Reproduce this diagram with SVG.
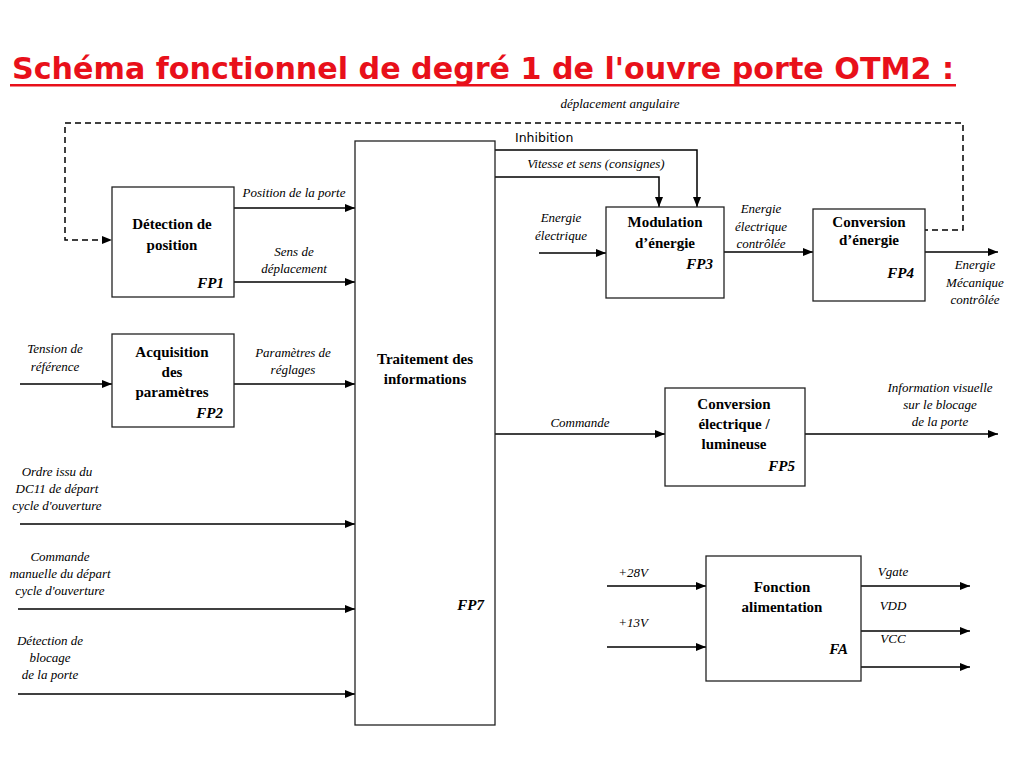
<svg xmlns="http://www.w3.org/2000/svg" width="1024" height="768" viewBox="0 0 1024 768">
<defs>
<marker id="ah" viewBox="0 0 10 8" refX="10" refY="4" markerWidth="10" markerHeight="8" markerUnits="userSpaceOnUse" orient="auto">
<path d="M0,0 L10,4 L0,8 Z" fill="#000"/>
</marker>
</defs>
<style>
.box{fill:#fff;stroke:#222;stroke-width:1.3}
.ln{fill:none;stroke:#000;stroke-width:1.5;marker-end:url(#ah)}
.dash{fill:none;stroke:#000;stroke-width:1.5;stroke-dasharray:6,4}
.bt{font-family:'Liberation Serif','DejaVu Serif',serif;font-weight:bold;font-size:15px;text-anchor:middle;fill:#000}
.fp{font-family:'Liberation Serif','DejaVu Serif',serif;font-weight:bold;font-style:italic;font-size:15px;text-anchor:end;fill:#000}
.lb{font-family:'Liberation Serif','DejaVu Serif',serif;font-style:italic;font-size:13px;text-anchor:middle;fill:#000}
.cm{font-family:'Comic Sans MS','DejaVu Sans',sans-serif}
</style>
<rect width="1024" height="768" fill="#fff"/>
<g id="title">
<text x="12" y="79" class="cm" font-size="31" font-weight="bold" fill="#e8101a" textLength="942" lengthAdjust="spacingAndGlyphs">Schéma fonctionnel de degré 1 de l'ouvre porte OTM2 :</text>
<rect x="10" y="84" width="946" height="2.5" fill="#e8101a"/>
</g>
<g id="connectors">
<polyline class="dash" points="922,230 963,230 963,123 65,123 65,240 104,240"/>
<path d="M112,240 L102,236 L102,244 Z" fill="#000"/>
<line class="ln" x1="234" y1="208" x2="355" y2="208"/>
<line class="ln" x1="234" y1="282" x2="355" y2="282"/>
<line class="ln" x1="20" y1="384" x2="112" y2="384"/>
<line class="ln" x1="234" y1="384" x2="355" y2="384"/>
<line class="ln" x1="20" y1="524" x2="355" y2="524"/>
<line class="ln" x1="18" y1="609" x2="355" y2="609"/>
<line class="ln" x1="18" y1="694" x2="355" y2="694"/>
<polyline class="ln" points="495,150 697,150 697,207"/>
<polyline class="ln" points="495,177 659,177 659,207"/>
<line class="ln" x1="539" y1="253" x2="606" y2="253"/>
<line class="ln" x1="724" y1="252" x2="813" y2="252"/>
<line class="ln" x1="925" y1="252" x2="998" y2="252"/>
<line class="ln" x1="495" y1="434" x2="665" y2="434"/>
<line class="ln" x1="805" y1="434" x2="998" y2="434"/>
<line class="ln" x1="607" y1="586" x2="706" y2="586"/>
<line class="ln" x1="607" y1="647" x2="706" y2="647"/>
<line class="ln" x1="861" y1="586" x2="970" y2="586"/>
<line class="ln" x1="861" y1="631" x2="970" y2="631"/>
<line class="ln" x1="861" y1="667" x2="970" y2="667"/>
</g>
<g id="labels">
<text x="620" y="108" class="lb" font-size="12.5">déplacement angulaire</text>
<text x="515" y="142" class="cm" font-size="12.5" fill="#000">Inhibition</text>
<text x="596" y="168" class="lb">Vitesse et sens (consignes)</text>
<text x="294" y="197" class="lb">Position de la porte</text>
<text x="294" y="256" class="lb">Sens de</text>
<text x="294" y="273" class="lb">déplacement</text>
<text x="55" y="353" class="lb">Tension de</text>
<text x="55" y="371" class="lb">référence</text>
<text x="293" y="357" class="lb">Paramètres de</text>
<text x="293" y="374" class="lb">réglages</text>
<text x="57" y="476" class="lb">Ordre issu du</text>
<text x="57" y="493" class="lb">DC11 de départ</text>
<text x="57" y="510" class="lb">cycle d'ouverture</text>
<text x="60" y="561" class="lb">Commande</text>
<text x="60" y="578" class="lb">manuelle du départ</text>
<text x="60" y="595" class="lb">cycle d'ouverture</text>
<text x="50" y="645" class="lb">Détection de</text>
<text x="50" y="662" class="lb">blocage</text>
<text x="50" y="679" class="lb">de la porte</text>
<text x="561" y="222" class="lb">Energie</text>
<text x="561" y="240" class="lb">électrique</text>
<text x="761" y="213" class="lb">Energie</text>
<text x="761" y="231" class="lb">électrique</text>
<text x="761" y="248" class="lb">contrôlée</text>
<text x="975" y="269" class="lb">Energie</text>
<text x="975" y="287" class="lb">Mécanique</text>
<text x="975" y="304" class="lb">contrôlée</text>
<text x="580" y="427" class="lb">Commande</text>
<text x="940" y="392" class="lb">Information visuelle</text>
<text x="940" y="409" class="lb">sur le blocage</text>
<text x="940" y="426" class="lb">de la porte</text>
<text x="633" y="577" class="lb">+28V</text>
<text x="633" y="627" class="lb">+13V</text>
<text x="893" y="576" class="lb">Vgate</text>
<text x="893" y="610" class="lb">VDD</text>
<text x="893" y="643" class="lb">VCC</text>
</g>
<g id="FP1">
<rect class="box" x="112" y="187" width="122" height="110"/>
<text x="172" y="229" class="bt">Détection de</text>
<text x="172" y="250" class="bt">position</text>
<text x="224" y="288" class="fp">FP1</text>
</g>
<g id="FP2">
<rect class="box" x="112" y="334" width="122" height="93"/>
<text x="172" y="357" class="bt">Acquisition</text>
<text x="172" y="377" class="bt">des</text>
<text x="172" y="397" class="bt">paramètres</text>
<text x="223" y="418" class="fp">FP2</text>
</g>
<g id="FP7">
<rect class="box" x="355" y="141" width="140" height="584"/>
<text x="425" y="364" class="bt">Traitement des</text>
<text x="425" y="384" class="bt">informations</text>
<text x="484" y="610" class="fp">FP7</text>
</g>
<g id="FP3">
<rect class="box" x="606" y="207" width="118" height="91"/>
<text x="665" y="227" class="bt" font-size="16">Modulation</text>
<text x="665" y="248" class="bt" font-size="16">d’énergie</text>
<text x="713" y="269" class="fp" font-size="16">FP3</text>
</g>
<g id="FP4">
<rect class="box" x="813" y="209" width="112" height="92"/>
<text x="869" y="227" class="bt" font-size="13">Conversion</text>
<text x="869" y="245" class="bt" font-size="13">d’énergie</text>
<text x="914" y="278" class="fp" font-size="13">FP4</text>
</g>
<g id="FP5">
<rect class="box" x="665" y="388" width="140" height="98"/>
<text x="734" y="409" class="bt">Conversion</text>
<text x="734" y="429" class="bt">électrique /</text>
<text x="734" y="449" class="bt">lumineuse</text>
<text x="795" y="471" class="fp">FP5</text>
</g>
<g id="FA">
<rect class="box" x="706" y="556" width="155" height="125"/>
<text x="782" y="592" class="bt">Fonction</text>
<text x="782" y="612" class="bt">alimentation</text>
<text x="848" y="654" class="fp" font-size="16">FA</text>
</g>
</svg>
